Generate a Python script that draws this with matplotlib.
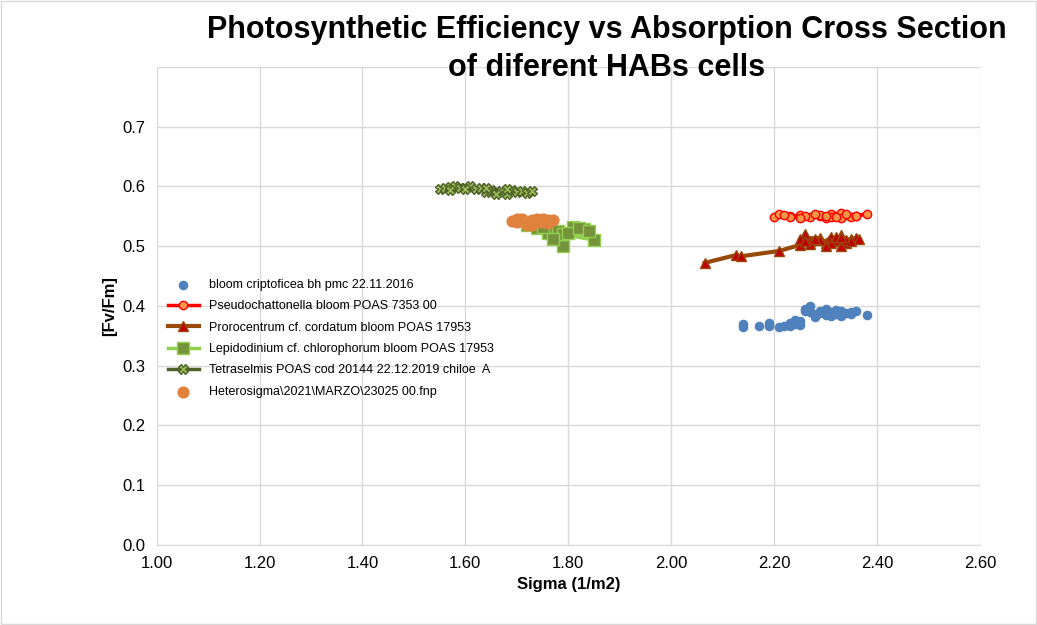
import matplotlib
matplotlib.use("Agg")
import matplotlib.pyplot as plt

bloom_x = [2.14, 2.14, 2.17, 2.19, 2.19, 2.21, 2.22, 2.23, 2.23, 2.24, 2.24, 2.25, 2.25, 2.26, 2.26, 2.27, 2.27, 2.28, 2.28, 2.29, 2.29, 2.30, 2.30, 2.31, 2.31, 2.32, 2.32, 2.33, 2.33, 2.34, 2.35, 2.35, 2.36, 2.38]
bloom_y = [0.365, 0.370, 0.366, 0.366, 0.372, 0.364, 0.367, 0.366, 0.372, 0.370, 0.376, 0.368, 0.374, 0.392, 0.395, 0.390, 0.400, 0.382, 0.386, 0.392, 0.388, 0.385, 0.395, 0.384, 0.390, 0.386, 0.393, 0.384, 0.392, 0.389, 0.390, 0.386, 0.392, 0.385]

pseudo_x = [2.20, 2.21, 2.23, 2.25, 2.27, 2.29, 2.30, 2.31, 2.32, 2.33, 2.34, 2.35, 2.36, 2.38, 2.33, 2.31, 2.29, 2.26, 2.23, 2.22, 2.25, 2.28, 2.30, 2.32, 2.34, 2.36]
pseudo_y = [0.548, 0.553, 0.550, 0.552, 0.549, 0.551, 0.547, 0.553, 0.550, 0.556, 0.552, 0.549, 0.551, 0.554, 0.547, 0.549, 0.552, 0.550, 0.548, 0.552, 0.547, 0.553, 0.550, 0.548, 0.553, 0.550]

proro_x = [2.065, 2.125, 2.135, 2.21, 2.25, 2.26, 2.27, 2.25, 2.29, 2.30, 2.31, 2.32, 2.33, 2.34, 2.35, 2.36, 2.33, 2.31, 2.29, 2.27, 2.26, 2.28, 2.30, 2.32, 2.34, 2.365, 2.35, 2.33]
proro_y = [0.472, 0.485, 0.483, 0.492, 0.502, 0.521, 0.508, 0.512, 0.514, 0.505, 0.516, 0.510, 0.518, 0.506, 0.512, 0.514, 0.500, 0.505, 0.510, 0.503, 0.508, 0.512, 0.500, 0.515, 0.510, 0.512, 0.509, 0.516]

lepi_x = [1.72, 1.74, 1.76, 1.78, 1.79, 1.81, 1.83, 1.85, 1.79, 1.77, 1.75, 1.80, 1.82, 1.84]
lepi_y = [0.535, 0.530, 0.522, 0.525, 0.500, 0.532, 0.528, 0.510, 0.520, 0.512, 0.532, 0.522, 0.530, 0.526]

tetra_x = [1.55, 1.56, 1.57, 1.58, 1.59, 1.60, 1.61, 1.62, 1.63, 1.64, 1.65, 1.66, 1.67, 1.68, 1.69, 1.70, 1.71, 1.72, 1.73, 1.57, 1.60, 1.64, 1.66, 1.68]
tetra_y = [0.596, 0.598, 0.599, 0.600, 0.597, 0.598, 0.600, 0.596, 0.598, 0.590, 0.594, 0.590, 0.592, 0.588, 0.594, 0.590, 0.592, 0.589, 0.592, 0.594, 0.596, 0.598, 0.588, 0.595]

hetero_x = [1.69, 1.70, 1.71, 1.72, 1.73, 1.74, 1.75, 1.76, 1.77, 1.70, 1.72, 1.74, 1.76, 1.71, 1.73, 1.75]
hetero_y = [0.542, 0.540, 0.545, 0.538, 0.543, 0.545, 0.541, 0.544, 0.543, 0.545, 0.536, 0.540, 0.538, 0.543, 0.535, 0.546]

labels = ["bloom criptoficea bh pmc 22.11.2016",
          "Pseudochattonella bloom POAS 7353 00",
          "Prorocentrum cf. cordatum bloom POAS 17953",
          "Lepidodinium cf. chlorophorum bloom POAS 17953",
          "Tetraselmis POAS cod 20144 22.12.2019 chiloe  A",
          "Heterosigma\\2021\\MARZO\\23025 00.fnp"]

plt.rcParams['font.family'] = ['Liberation Sans', 'DejaVu Sans']
fig = plt.figure(figsize=(10.37, 6.25), dpi=100)
fig.patches.append(plt.Rectangle((0.001, 0.001), 0.998, 0.998, transform=fig.transFigure,
                                 fill=False, edgecolor='#d9d9d9', lw=1))
ax = fig.add_axes([0.151, 0.128, 0.794, 0.765])

ax.plot(tetra_x, tetra_y, color='#4f6228', lw=2.5, marker='X', ms=7, mew=1, mec='#4f6228', mfc='#9bbb59', label=labels[4], zorder=3)
ax.plot(lepi_x, lepi_y, color='#92d050', lw=2.5, marker='s', ms=9, mfc='#76933c', mec='#92d050', label=labels[3], zorder=3)
ax.scatter(hetero_x, hetero_y, s=60, color='#e0823d', label=labels[5], zorder=4)
ax.plot(proro_x, proro_y, color='#984807', lw=3, marker='^', ms=7, mfc='#c00000', mec='#984807', label=labels[2], zorder=3)
ax.plot(pseudo_x, pseudo_y, color='#ff0000', lw=2.5, marker='o', ms=6, mfc='#f79646', mec='#ff0000', label=labels[1], zorder=3)
ax.scatter(bloom_x, bloom_y, s=35, color='#4f81bd', label=labels[0], zorder=3)

ax.set_xlim(1.0, 2.6)
ax.set_ylim(0, 0.8)
ax.set_xticks([1.0, 1.2, 1.4, 1.6, 1.8, 2.0, 2.2, 2.4, 2.6])
ax.set_xticklabels([f"{v:.2f}" for v in ax.get_xticks()], fontsize=12)
ax.set_yticks([0, 0.1, 0.2, 0.3, 0.4, 0.5, 0.6, 0.7, 0.8])
ax.set_yticklabels(["0.0", "0.1", "0.2", "0.3", "0.4", "0.5", "0.6", "0.7", ""], fontsize=12)
ax.grid(True, color='#d9d9d9', lw=1)
ax.set_axisbelow(True)
for s in ['top', 'right', 'left']:
    ax.spines[s].set_visible(False)
ax.spines['bottom'].set_color('#d9d9d9')
ax.tick_params(length=0, pad=8)
ax.set_xlabel("Sigma (1/m2)", fontsize=12, fontweight='bold')
ax.set_ylabel("[Fv/Fm]", fontsize=12, fontweight='bold')

fig.text(0.585, 0.952, "Photosynthetic Efficiency vs Absorption Cross Section", ha='center', va='center', fontsize=22, fontweight='bold')
fig.text(0.585, 0.892, "of diferent HABs cells", ha='center', va='center', fontsize=22, fontweight='bold')

h, l = ax.get_legend_handles_labels()
hd = dict(zip(l, h))
ax.legend([hd[x] for x in labels], labels, loc='upper left', bbox_to_anchor=(0.0, 0.58), frameon=False, fontsize=9, handlelength=2.5, labelspacing=0.75)

fig.savefig("out.png")
